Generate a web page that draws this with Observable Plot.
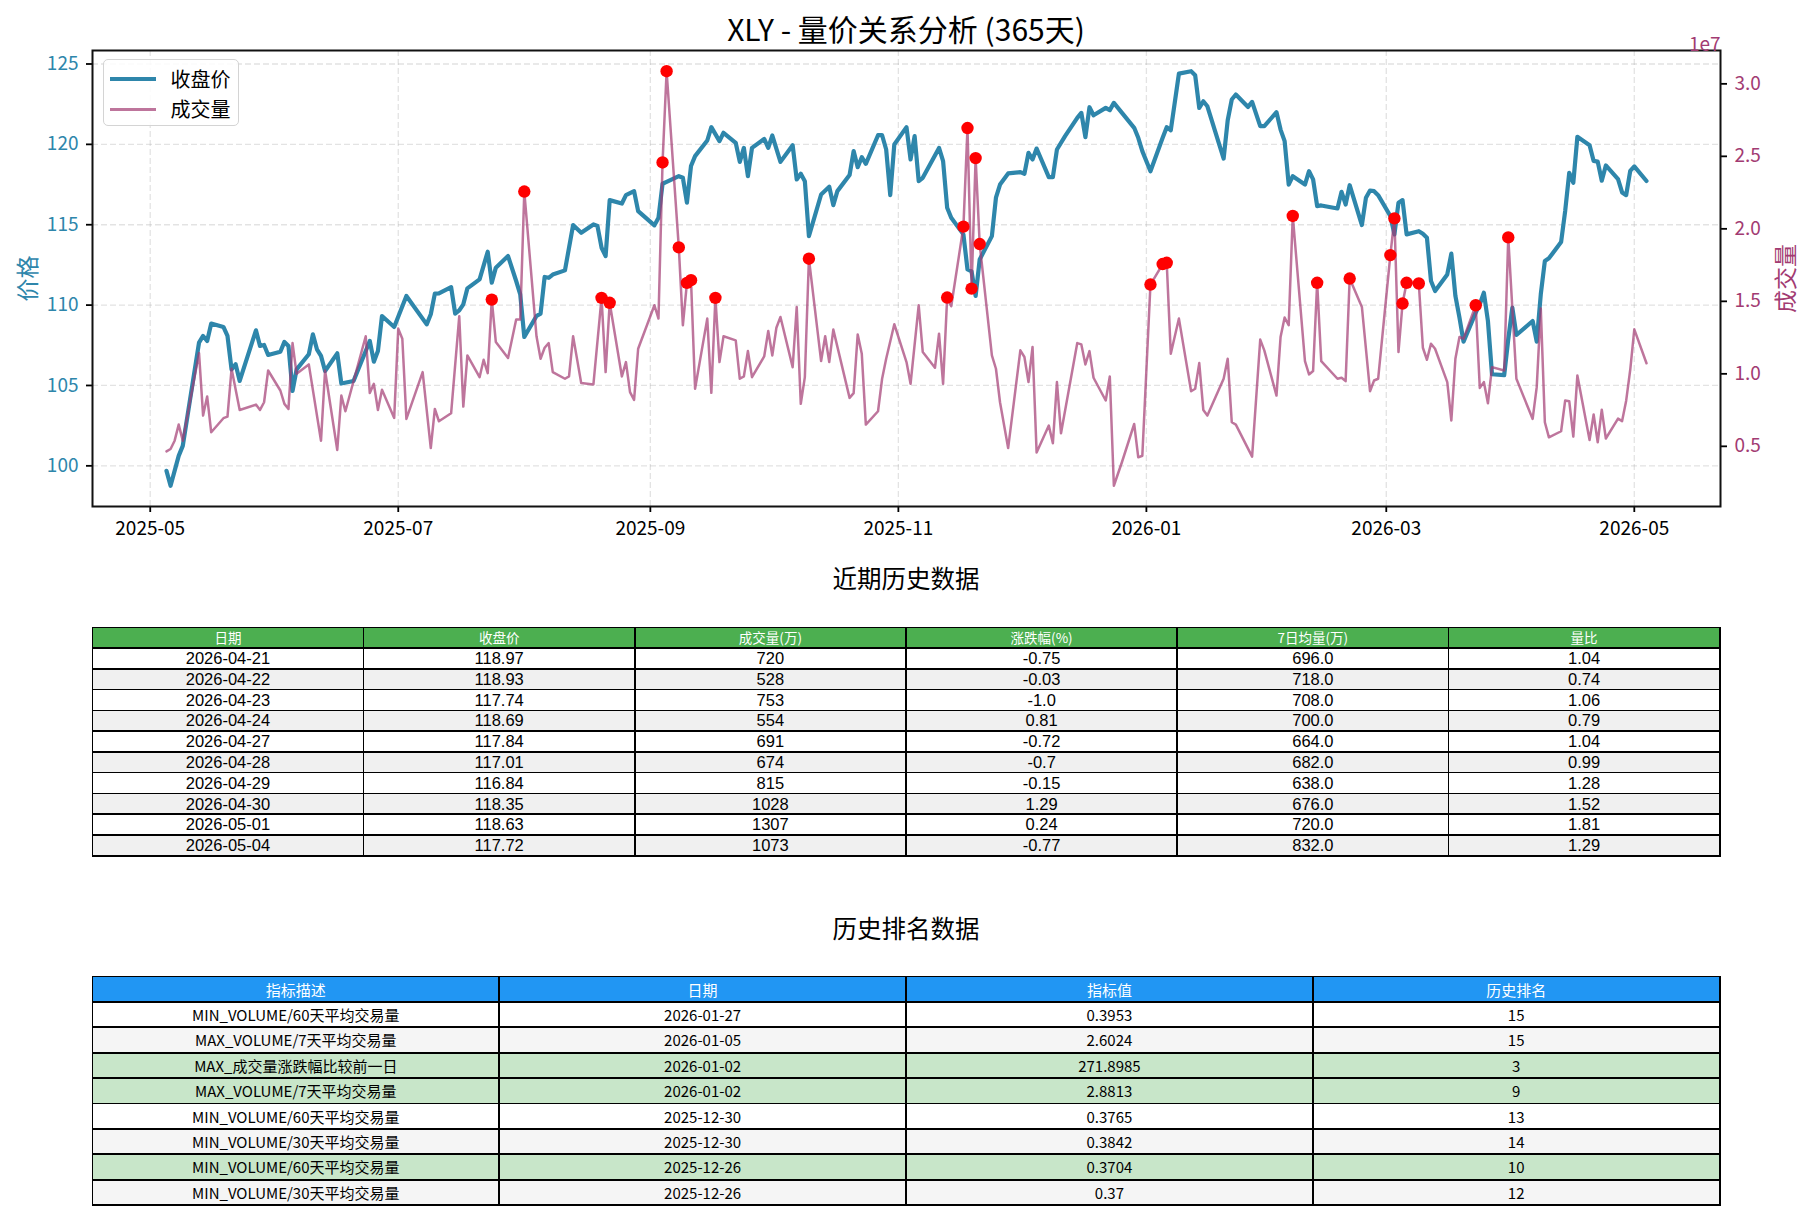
<!DOCTYPE html>
<html><head><meta charset="utf-8">
<script src="https://cdn.jsdelivr.net/npm/d3@7"></script>
<script src="https://cdn.jsdelivr.net/npm/@observablehq/plot@0.6"></script>
<style>
body{margin:0;background:#fff;width:1812px;height:1220px;position:relative;overflow:hidden;font-family:"Noto Sans CJK SC","Noto Sans",sans-serif;color:#000;}
#chart{position:absolute;left:0;top:0;}
.ttl{position:absolute;left:0;width:1812px;text-align:center;line-height:1;white-space:nowrap;}
.legend{position:absolute;left:102.5px;top:59px;width:136px;height:67px;box-sizing:border-box;border:1.3px solid #d4d4d4;border-radius:5px;background:rgba(255,255,255,0.85);}
.legend .sw{position:absolute;left:6px;width:46px;}
.legend .lb{position:absolute;left:67px;font-size:20px;line-height:1;}
.grid{position:absolute;box-sizing:border-box;background:#000;display:grid;}
.grid div{display:flex;align-items:center;justify-content:center;white-space:nowrap;line-height:1;overflow:visible;min-height:0;}
</style></head>
<body>
<div class="ttl" style="top:13px;font-size:30px;">XLY - 量价关系分析 (365天)</div>
<div id="chart"></div>
<div class="legend">
  <div class="sw" style="top:17px;height:4.2px;background:#2E86AB;"></div>
  <div class="lb" style="top:9px;">收盘价</div>
  <div class="sw" style="top:48px;height:2.5px;background:#A23B72;opacity:0.7;"></div>
  <div class="lb" style="top:39px;">成交量</div>
</div>
<div class="ttl" style="top:566px;font-size:24.5px;">近期历史数据</div>
<div class="ttl" style="top:916px;font-size:24.5px;">历史排名数据</div>
<div id="t1"></div>
<div id="t2"></div>
<script>
// ---------- data ----------
const closePrice = [
["2025-05-05",99.69],["2025-05-06",98.76],["2025-05-08",100.62],["2025-05-09",101.24],["2025-05-13",107.67],["2025-05-14",108.08],["2025-05-15",107.77],["2025-05-16",108.85],["2025-05-19",108.64],["2025-05-20",108.08],["2025-05-21",106.0],["2025-05-22",106.32],["2025-05-23",105.28],["2025-05-27",108.43],["2025-05-28",107.46],["2025-05-29",107.52],["2025-05-30",106.90],
["2025-06-02",107.10],["2025-06-03",107.71],["2025-06-04",107.46],["2025-06-05",104.66],["2025-06-06",106.0],["2025-06-09",106.94],["2025-06-10",108.18],["2025-06-11",107.25],["2025-06-12",106.84],["2025-06-13",105.90],["2025-06-16",107.0],["2025-06-17",105.12],["2025-06-20",105.28],["2025-06-24",107.77],["2025-06-25",106.48],["2025-06-26",107.15],["2025-06-27",109.32],["2025-06-30",108.64],
["2025-07-03",110.57],["2025-07-08",108.80],["2025-07-09",109.43],["2025-07-10",110.71],["2025-07-11",110.73],["2025-07-14",111.12],["2025-07-15",109.47],["2025-07-16",109.67],["2025-07-17",110.05],["2025-07-18",111.04],["2025-07-21",111.60],["2025-07-23",113.32],["2025-07-24",111.39],["2025-07-25",112.33],["2025-07-28",113.05],["2025-07-30",111.50],["2025-07-31",110.67],
["2025-08-01",108.02],["2025-08-04",109.32],["2025-08-05",109.47],["2025-08-06",111.75],["2025-08-07",111.70],["2025-08-08",111.90],["2025-08-11",112.16],["2025-08-13",114.98],["2025-08-15",114.50],["2025-08-18",115.02],["2025-08-19",114.92],["2025-08-20",113.57],["2025-08-21",113.05],["2025-08-22",116.53],["2025-08-25",116.32],["2025-08-26",116.84],["2025-08-28",117.09],["2025-08-29",115.85],
["2025-09-02",114.96],["2025-09-03",115.43],["2025-09-04",117.55],["2025-09-05",117.67],["2025-09-08",118.02],["2025-09-09",117.92],["2025-09-10",116.37],["2025-09-11",118.65],["2025-09-12",119.27],["2025-09-15",120.24],["2025-09-16",121.07],["2025-09-18",120.20],["2025-09-19",120.72],["2025-09-22",120.10],["2025-09-23",118.91],["2025-09-24",119.78],["2025-09-25",118.02],["2025-09-26",119.78],["2025-09-29",120.34],["2025-09-30",119.78],
["2025-10-01",120.55],["2025-10-03",118.91],["2025-10-06",119.95],["2025-10-07",117.82],["2025-10-08",118.17],["2025-10-09",117.71],["2025-10-10",114.29],["2025-10-13",116.88],["2025-10-15",117.36],["2025-10-16",116.22],["2025-10-17",117.09],["2025-10-20",118.09],["2025-10-21",119.58],["2025-10-22",118.58],["2025-10-23",119.20],["2025-10-24",118.79],["2025-10-27",120.57],["2025-10-28",120.57],["2025-10-29",119.68],["2025-10-30",116.84],["2025-10-31",119.99],
["2025-11-03",121.07],["2025-11-04",119.06],["2025-11-05",120.51],["2025-11-06",117.71],["2025-11-07",117.92],["2025-11-11",119.78],["2025-11-12",118.96],["2025-11-13",116.06],["2025-11-14",115.43],["2025-11-17",114.40],["2025-11-18",112.22],["2025-11-19",112.10],["2025-11-20",110.57],["2025-11-21",112.84],["2025-11-24",114.29],["2025-11-25",116.68],["2025-11-26",117.50],["2025-11-28",118.19],
["2025-12-01",118.27],["2025-12-02",118.17],["2025-12-03",119.47],["2025-12-04",119.06],["2025-12-05",119.74],["2025-12-08",117.96],["2025-12-09",117.96],["2025-12-10",119.68],["2025-12-12",120.51],["2025-12-15",121.65],["2025-12-16",121.96],["2025-12-17",120.45],["2025-12-18",122.31],["2025-12-19",121.81],["2025-12-22",122.27],["2025-12-23",122.13],["2025-12-24",122.58],["2025-12-26",121.96],["2025-12-29",121.03],["2025-12-30",120.41],["2025-12-31",119.58],
["2026-01-02",118.33],["2026-01-05",120.41],["2026-01-06",121.07],["2026-01-07",120.88],["2026-01-09",124.40],["2026-01-12",124.55],["2026-01-13",124.30],["2026-01-14",122.27],["2026-01-15",122.68],["2026-01-16",122.37],["2026-01-20",119.12],["2026-01-21",121.50],["2026-01-22",122.79],["2026-01-23",123.10],["2026-01-26",122.33],["2026-01-27",122.64],["2026-01-29",121.13],["2026-01-30",121.13],
["2026-02-02",122.00],["2026-02-03",120.92],["2026-02-04",120.20],["2026-02-05",117.50],["2026-02-06",118.02],["2026-02-09",117.50],["2026-02-10",118.33],["2026-02-11",117.82],["2026-02-12",116.16],["2026-02-13",116.20],["2026-02-17",116.01],["2026-02-18",117.05],["2026-02-19",116.26],["2026-02-20",117.46],["2026-02-23",114.98],["2026-02-24",116.68],["2026-02-25",117.13],["2026-02-26",117.09],["2026-02-27",116.84],
["2026-03-02",115.54],["2026-03-03",114.40],["2026-03-04",116.37],["2026-03-05",116.53],["2026-03-06",114.40],["2026-03-09",114.60],["2026-03-10",114.44],["2026-03-11",114.19],["2026-03-12",111.50],["2026-03-13",110.88],["2026-03-16",111.91],["2026-03-17",113.20],["2026-03-18",110.57],["2026-03-19",109.22],["2026-03-20",107.73],["2026-03-23",109.53],["2026-03-24",110.05],["2026-03-25",110.77],["2026-03-26",109.01],["2026-03-27",105.70],["2026-03-30",105.64],["2026-03-31",107.87],
["2026-04-01",109.84],["2026-04-02",108.14],["2026-04-06",109.01],["2026-04-07",107.73],["2026-04-08",110.67],["2026-04-09",112.74],["2026-04-10",112.91],["2026-04-13",113.92],["2026-04-14",115.85],["2026-04-15",118.23],["2026-04-16",117.61],["2026-04-17",120.47],["2026-04-20",119.95],["2026-04-21",118.97],["2026-04-22",118.93],["2026-04-23",117.74],["2026-04-24",118.69],["2026-04-27",117.84],["2026-04-28",117.01],["2026-04-29",116.84],["2026-04-30",118.35],["2026-05-01",118.63],["2026-05-04",117.72]
];
// volume in 万 (10^4 shares)
const volume = [
["2025-05-05",465],["2025-05-06",482],["2025-05-07",539],["2025-05-08",650],["2025-05-09",539],["2025-05-13",1143],["2025-05-14",712],["2025-05-15",844],["2025-05-16",597],["2025-05-19",694],["2025-05-20",705],["2025-05-21",1035],["2025-05-23",751],["2025-05-27",788],["2025-05-28",751],["2025-05-29",804],["2025-05-30",1023],
["2025-06-02",885],["2025-06-03",793],["2025-06-04",758],["2025-06-05",1212],["2025-06-06",1000],["2025-06-09",1065],["2025-06-12",539],["2025-06-13",1023],["2025-06-16",475],["2025-06-17",850],["2025-06-18",742],["2025-06-23",1259],["2025-06-24",867],["2025-06-25",931],["2025-06-26",751],["2025-06-27",890],["2025-06-30",696],
["2025-07-01",1312],["2025-07-02",1242],["2025-07-03",689],["2025-07-07",1012],["2025-07-09",488],["2025-07-10",758],["2025-07-11",673],["2025-07-14",728],["2025-07-16",1397],["2025-07-17",774],["2025-07-18",1127],["2025-07-21",977],["2025-07-22",1097],["2025-07-23",1005],["2025-07-24",1512],["2025-07-25",1219],["2025-07-28",1109],["2025-07-30",1374],["2025-07-31",1374],
["2025-08-01",2257],["2025-08-04",1259],["2025-08-05",1104],["2025-08-06",1180],["2025-08-07",1212],["2025-08-08",1012],["2025-08-11",966],["2025-08-12",982],["2025-08-13",1259],["2025-08-15",936],["2025-08-18",927],["2025-08-20",1524],["2025-08-21",1012],["2025-08-22",1490],["2025-08-25",982],["2025-08-26",1081],["2025-08-27",874],["2025-08-28",820],["2025-08-29",1173],
["2025-09-02",1473],["2025-09-03",1381],["2025-09-04",2458],["2025-09-05",3087],["2025-09-08",1872],["2025-09-09",1335],["2025-09-10",1627],["2025-09-11",1646],["2025-09-12",897],["2025-09-15",1381],["2025-09-16",869],["2025-09-17",1524],["2025-09-18",1081],["2025-09-19",1259],["2025-09-22",1231],["2025-09-23",966],["2025-09-24",982],["2025-09-25",1157],["2025-09-26",977],["2025-09-29",1120],["2025-09-30",1295],
["2025-10-01",1127],["2025-10-02",1318],["2025-10-03",1392],["2025-10-06",1046],["2025-10-07",1461],["2025-10-08",793],["2025-10-09",977],["2025-10-10",1794],["2025-10-13",1088],["2025-10-14",1259],["2025-10-15",1081],["2025-10-16",1305],["2025-10-20",834],["2025-10-21",867],["2025-10-22",1272],["2025-10-23",1139],["2025-10-24",650],["2025-10-27",742],["2025-10-28",966],["2025-10-29",1104],["2025-10-31",1342],
["2025-11-03",1081],["2025-11-04",931],["2025-11-06",1473],["2025-11-07",1150],["2025-11-10",1042],["2025-11-11",1277],["2025-11-12",931],["2025-11-13",1526],["2025-11-14",1466],["2025-11-17",2015],["2025-11-18",2695],["2025-11-19",1588],["2025-11-20",2488],["2025-11-21",1895],["2025-11-24",1127],["2025-11-25",1035],["2025-11-26",804],["2025-11-28",488],
["2025-12-01",1162],["2025-12-02",1116],["2025-12-03",943],["2025-12-04",1185],["2025-12-05",458],["2025-12-08",643],["2025-12-09",521],["2025-12-10",943],["2025-12-11",590],["2025-12-15",1212],["2025-12-16",1203],["2025-12-17",1065],["2025-12-18",1157],["2025-12-19",973],["2025-12-22",816],["2025-12-23",982],["2025-12-24",228],["2025-12-26",392],["2025-12-29",654],["2025-12-30",424],["2025-12-31",435],
["2026-01-02",1616],["2026-01-05",1757],["2026-01-06",1766],["2026-01-07",1139],["2026-01-09",1381],["2026-01-12",880],["2026-01-13",897],["2026-01-14",1074],["2026-01-15",751],["2026-01-16",712],["2026-01-20",966],["2026-01-21",1104],["2026-01-22",666],["2026-01-23",650],["2026-01-27",429],["2026-01-29",1236],["2026-01-30",1162],
["2026-02-02",850],["2026-02-03",1254],["2026-02-04",1388],["2026-02-05",1335],["2026-02-06",2089],["2026-02-09",1088],["2026-02-10",996],["2026-02-11",1019],["2026-02-12",1628],["2026-02-13",1088],["2026-02-17",966],["2026-02-18",973],["2026-02-19",950],["2026-02-20",1657],["2026-02-23",1461],["2026-02-25",880],["2026-02-26",954],["2026-02-27",966],
["2026-03-02",1819],["2026-03-03",2072],["2026-03-04",1150],["2026-03-05",1485],["2026-03-06",1628],["2026-03-09",1623],["2026-03-10",1180],["2026-03-11",1097],["2026-03-12",1208],["2026-03-13",1173],["2026-03-16",943],["2026-03-17",678],["2026-03-18",1104],["2026-03-19",1254],["2026-03-20",1242],["2026-03-23",1473],["2026-03-24",903],["2026-03-25",943],["2026-03-26",797],["2026-03-27",1046],["2026-03-30",1023],["2026-03-31",1941],
["2026-04-02",966],["2026-04-06",689],["2026-04-07",908],["2026-04-08",1450],["2026-04-09",666],["2026-04-10",562],["2026-04-13",604],["2026-04-14",816],["2026-04-15",811],["2026-04-16",567],["2026-04-17",989],["2026-04-20",544],["2026-04-21",720],["2026-04-22",528],["2026-04-23",753],["2026-04-24",554],["2026-04-27",691],["2026-04-28",674],["2026-04-29",815],["2026-04-30",1028],["2026-05-01",1307],["2026-05-04",1073]
];
const anomalyDates = ["2025-07-24","2025-08-01","2025-08-20","2025-08-22","2025-09-04","2025-09-05","2025-09-08","2025-09-10","2025-09-11","2025-09-17","2025-10-10","2025-11-13","2025-11-17","2025-11-18","2025-11-19","2025-11-20","2025-11-21","2026-01-02","2026-01-05","2026-01-06","2026-02-06","2026-02-12","2026-02-20","2026-03-02","2026-03-03","2026-03-05","2026-03-06","2026-03-09","2026-03-23","2026-03-31"];

const xTickLabels = ["2025-05","2025-07","2025-09","2025-11","2026-01","2026-03","2026-05"];
const priceTicks = [100,105,110,115,120,125];
const volumeTicks = [500,1000,1500,2000,2500,3000]; // 万 -> 0.5e7 ... 3.0e7

// recent table
const recentHeader = ["日期","收盘价","成交量(万)","涨跌幅(%)","7日均量(万)","量比"];
const recentDates = ["2026-04-21","2026-04-22","2026-04-23","2026-04-24","2026-04-27","2026-04-28","2026-04-29","2026-04-30","2026-05-01","2026-05-04"];
const recentClose = ["118.97","118.93","117.74","118.69","117.84","117.01","116.84","118.35","118.63","117.72"];
const recentVolume = ["720","528","753","554","691","674","815","1028","1307","1073"];
const recentChange = ["-0.75","-0.03","-1.0","0.81","-0.72","-0.7","-0.15","1.29","0.24","-0.77"];
const recentAvg7 = ["696.0","718.0","708.0","700.0","664.0","682.0","638.0","676.0","720.0","832.0"];
const recentRatio = ["1.04","0.74","1.06","0.79","1.04","0.99","1.28","1.52","1.81","1.29"];

// ranking table
const rankHeader = ["指标描述","日期","指标值","历史排名"];
const rankDesc = ["MIN_VOLUME/60天平均交易量","MAX_VOLUME/7天平均交易量","MAX_成交量涨跌幅比较前一日","MAX_VOLUME/7天平均交易量","MIN_VOLUME/60天平均交易量","MIN_VOLUME/30天平均交易量","MIN_VOLUME/60天平均交易量","MIN_VOLUME/30天平均交易量"];
const rankDates = ["2026-01-27","2026-01-05","2026-01-02","2026-01-02","2025-12-30","2025-12-30","2025-12-26","2025-12-26"];
const rankValues = ["0.3953","2.6024","271.8985","2.8813","0.3765","0.3842","0.3704","0.37"];
const rankPlaces = ["15","15","3","9","13","14","10","12"];
const rankHighlight = [false,false,true,true,false,false,true,false];

// ---------- chart ----------
const parse = d3.utcParse("%Y-%m-%d");
const priceData = closePrice.map(([d,v]) => ({date: parse(d), price: v}));
const volData = volume.map(([d,v]) => ({date: parse(d), vol: v}));
const aSet = new Set(anomalyDates);
const anomalyData = volume.filter(([d]) => aSet.has(d)).map(([d,v]) => ({date: parse(d), vol: v}));

const pMin = d3.min(priceData, d => d.price), pMax = d3.max(priceData, d => d.price);
const pPad = (pMax - pMin) * 0.05;
const priceDomain = [pMin - pPad, pMax + pPad];
const vMin = d3.min(volData, d => d.vol), vMax = d3.max(volData, d => d.vol);
const vPad = (vMax - vMin) * 0.05;
const volDomain = [vMin - vPad, vMax + vPad];
const v2p = d3.scaleLinear().domain(volDomain).range(priceDomain);
const t0 = priceData[0].date, t1 = priceData[priceData.length - 1].date;
const tPad = (t1 - t0) * 0.05;
const xDomain = [new Date(+t0 - tPad), new Date(+t1 + tPad)];
const xTicks = xTickLabels.map(s => parse(s + "-01"));

const BLUE = "#2E86AB", PURPLE = "#A23B72";
const FS = 19;

const chart = Plot.plot({
  width: 1812, height: 560,
  marginLeft: 92, marginRight: 92, marginTop: 50, marginBottom: 54,
  style: {fontFamily: "'Noto Sans CJK SC','Noto Sans',sans-serif", fontSize: FS + "px", background: "transparent", overflow: "visible"},
  x: {type: "utc", domain: xDomain},
  y: {domain: priceDomain},
  marks: [
    Plot.gridX({ticks: xTicks, stroke: "#b0b0b0", strokeOpacity: 0.35, strokeDasharray: "6,3", strokeWidth: 1.3}),
    Plot.gridY({ticks: priceTicks, stroke: "#b0b0b0", strokeOpacity: 0.35, strokeDasharray: "6,3", strokeWidth: 1.3}),
    Plot.line(priceData, {x: "date", y: "price", stroke: BLUE, strokeWidth: 4.2}),
    Plot.line(volData, {x: "date", y: d => v2p(d.vol), stroke: PURPLE, strokeOpacity: 0.7, strokeWidth: 2.5}),
    Plot.dot(anomalyData, {x: "date", y: d => v2p(d.vol), r: 6.2, fill: "red", stroke: "none"}),
    Plot.axisX({ticks: xTicks, tickFormat: d3.utcFormat("%Y-%m"), tickSize: 6, tickPadding: 9, fontSize: FS, stroke: "#000", strokeWidth: 1.8, fill: "#000", label: null}),
    Plot.axisY({anchor: "left", ticks: priceTicks, tickSize: 6, tickPadding: 8, fontSize: FS, stroke: "#000", strokeWidth: 1.8, fill: BLUE, label: null}),
    Plot.axisY({anchor: "right", ticks: volumeTicks.map(v2p), tickFormat: d => (v2p.invert(d) / 1000).toFixed(1), tickSize: 6, tickPadding: 8, fontSize: FS, stroke: "#000", strokeWidth: 1.8, fill: PURPLE, label: null}),
    Plot.frame({stroke: "#111", strokeWidth: 2}),
    Plot.text(["价格"], {text: d => d, frameAnchor: "left", dx: -64, rotate: -90, textAnchor: "middle", fontSize: 23, fill: BLUE}),
    Plot.text(["成交量"], {text: d => d, frameAnchor: "right", dx: 66, rotate: -90, textAnchor: "middle", fontSize: 23, fill: PURPLE}),
    Plot.text(["1e7"], {text: d => d, frameAnchor: "top-right", dy: -13, textAnchor: "end", fontSize: FS, fill: PURPLE})
  ]
});
document.getElementById("chart").appendChild(chart);

// ---------- tables ----------
function buildGrid(el, {left, top, width, height, cols, header, rows, headBg, rowBg, fontSize, headSize, bodyFont, line}) {
  el.className = "grid";
  Object.assign(el.style, {left: left + "px", top: top + "px", width: width + "px", height: height + "px",
    padding: line + "px", gap: line + "px",
    gridTemplateColumns: `repeat(${cols}, 1fr)`, gridTemplateRows: `repeat(${rows.length + 1}, 1fr)`});
  header.forEach(h => {
    const c = document.createElement("div");
    c.textContent = h; c.style.background = headBg; c.style.color = "#fff"; c.style.fontSize = headSize + "px";
    el.appendChild(c);
  });
  rows.forEach((r, i) => r.forEach(v => {
    const c = document.createElement("div");
    c.textContent = v; c.style.background = rowBg(i); c.style.fontSize = fontSize + "px";
    if (bodyFont) c.style.fontFamily = bodyFont;
    el.appendChild(c);
  }));
}
const t1Rows = recentDates.map((d, i) => [d, recentClose[i], recentVolume[i], recentChange[i], recentAvg7[i], recentRatio[i]]);
buildGrid(document.getElementById("t1"), {left: 91.5, top: 626.5, width: 1629, height: 230, cols: 6, header: recentHeader, rows: t1Rows,
  headBg: "#4CAF50", rowBg: i => i % 2 === 0 ? "#ffffff" : "#f0f0f0", fontSize: 16.5, headSize: 13.5,
  bodyFont: "'Liberation Sans','Noto Sans CJK SC',sans-serif", line: 1.6});
const t2Rows = rankDesc.map((d, i) => [d, rankDates[i], rankValues[i], rankPlaces[i]]);
buildGrid(document.getElementById("t2"), {left: 91.5, top: 975.5, width: 1629, height: 230.5, cols: 4, header: rankHeader, rows: t2Rows,
  headBg: "#2196F3", rowBg: i => rankHighlight[i] ? "#C8E6C9" : (i % 2 === 0 ? "#ffffff" : "#f5f5f5"), fontSize: 15, headSize: 15, line: 1.8});
</script>
</body></html>
